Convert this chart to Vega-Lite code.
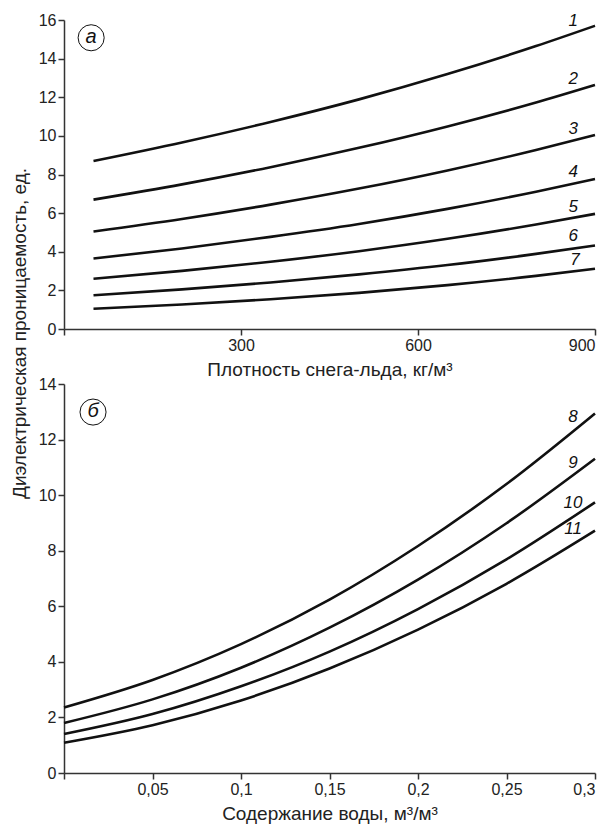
{
  "$schema": "https://vega.github.io/schema/vega-lite/v6.json",
  "background": "white",
  "padding": {"left": 11, "top": 11, "right": 0, "bottom": 2},
  "title": {"text": "Диэлектрическая проницаемость, ед.", "orient": "left", "anchor": "middle", "font": "Liberation Sans", "fontSize": 19, "fontWeight": "normal", "color": "#222", "offset": 8, "dx": 84},
  "config": {
    "font": "Liberation Sans",
    "view": {"stroke": null},
    "axis": {"grid": false, "domainColor": "#333", "tickColor": "#333", "domainWidth": 1.5, "tickWidth": 1.5, "tickSize": 6, "labelFontSize": 16, "labelColor": "#222", "titleFontSize": 19, "titleFontWeight": "normal", "titleColor": "#222", "labelPadding": 2, "titlePadding": 7, "labelFont": "Liberation Sans", "titleFont": "Liberation Sans"}
  },
  "datasets": {
    "top": [
      {"x": 50, "y": 8.7, "curve": "1"}, {"x": 200, "y": 9.66, "curve": "1"}, {"x": 350, "y": 10.72, "curve": "1"}, {"x": 500, "y": 11.89, "curve": "1"}, {"x": 650, "y": 13.2, "curve": "1"}, {"x": 800, "y": 14.65, "curve": "1"}, {"x": 900, "y": 15.7, "curve": "1"},
      {"x": 50, "y": 6.7, "curve": "2"}, {"x": 200, "y": 7.49, "curve": "2"}, {"x": 350, "y": 8.38, "curve": "2"}, {"x": 500, "y": 9.38, "curve": "2"}, {"x": 650, "y": 10.49, "curve": "2"}, {"x": 800, "y": 11.73, "curve": "2"}, {"x": 900, "y": 12.64, "curve": "2"},
      {"x": 50, "y": 5.05, "curve": "3"}, {"x": 200, "y": 5.7, "curve": "3"}, {"x": 350, "y": 6.44, "curve": "3"}, {"x": 500, "y": 7.27, "curve": "3"}, {"x": 650, "y": 8.21, "curve": "3"}, {"x": 800, "y": 9.27, "curve": "3"}, {"x": 900, "y": 10.05, "curve": "3"},
      {"x": 50, "y": 3.65, "curve": "4"}, {"x": 200, "y": 4.17, "curve": "4"}, {"x": 350, "y": 4.77, "curve": "4"}, {"x": 500, "y": 5.44, "curve": "4"}, {"x": 650, "y": 6.22, "curve": "4"}, {"x": 800, "y": 7.11, "curve": "4"}, {"x": 900, "y": 7.77, "curve": "4"},
      {"x": 50, "y": 2.6, "curve": "5"}, {"x": 200, "y": 3.01, "curve": "5"}, {"x": 350, "y": 3.48, "curve": "5"}, {"x": 500, "y": 4.03, "curve": "5"}, {"x": 650, "y": 4.67, "curve": "5"}, {"x": 800, "y": 5.41, "curve": "5"}, {"x": 900, "y": 5.96, "curve": "5"},
      {"x": 50, "y": 1.75, "curve": "6"}, {"x": 200, "y": 2.05, "curve": "6"}, {"x": 350, "y": 2.41, "curve": "6"}, {"x": 500, "y": 2.83, "curve": "6"}, {"x": 650, "y": 3.31, "curve": "6"}, {"x": 800, "y": 3.89, "curve": "6"}, {"x": 900, "y": 4.32, "curve": "6"},
      {"x": 50, "y": 1.05, "curve": "7"}, {"x": 200, "y": 1.27, "curve": "7"}, {"x": 350, "y": 1.54, "curve": "7"}, {"x": 500, "y": 1.87, "curve": "7"}, {"x": 650, "y": 2.27, "curve": "7"}, {"x": 800, "y": 2.75, "curve": "7"}, {"x": 900, "y": 3.12, "curve": "7"}
    ],
    "topLabels": [
      {"x": 863, "y": 15.96, "label": "1"},
      {"x": 863, "y": 12.95, "label": "2"},
      {"x": 863, "y": 10.36, "label": "3"},
      {"x": 863, "y": 8.13, "label": "4"},
      {"x": 863, "y": 6.3, "label": "5"},
      {"x": 863, "y": 4.83, "label": "6"},
      {"x": 866, "y": 3.58, "label": "7"}
    ],
    "topTag": [{"x": 46, "y": 15.08, "label": "а"}],
    "bottom": [
      {"x": 0, "y": 2.36, "curve": "8"}, {"x": 0.05, "y": 3.35, "curve": "8"}, {"x": 0.1, "y": 4.64, "curve": "8"}, {"x": 0.15, "y": 6.24, "curve": "8"}, {"x": 0.2, "y": 8.17, "curve": "8"}, {"x": 0.25, "y": 10.4, "curve": "8"}, {"x": 0.3, "y": 12.94, "curve": "8"},
      {"x": 0, "y": 1.8, "curve": "9"}, {"x": 0.05, "y": 2.65, "curve": "9"}, {"x": 0.1, "y": 3.79, "curve": "9"}, {"x": 0.15, "y": 5.23, "curve": "9"}, {"x": 0.2, "y": 6.96, "curve": "9"}, {"x": 0.25, "y": 8.99, "curve": "9"}, {"x": 0.3, "y": 11.31, "curve": "9"},
      {"x": 0, "y": 1.4, "curve": "10"}, {"x": 0.05, "y": 2.12, "curve": "10"}, {"x": 0.1, "y": 3.12, "curve": "10"}, {"x": 0.15, "y": 4.37, "curve": "10"}, {"x": 0.2, "y": 5.9, "curve": "10"}, {"x": 0.25, "y": 7.69, "curve": "10"}, {"x": 0.3, "y": 9.74, "curve": "10"},
      {"x": 0, "y": 1.09, "curve": "11"}, {"x": 0.05, "y": 1.72, "curve": "11"}, {"x": 0.1, "y": 2.61, "curve": "11"}, {"x": 0.15, "y": 3.76, "curve": "11"}, {"x": 0.2, "y": 5.16, "curve": "11"}, {"x": 0.25, "y": 6.81, "curve": "11"}, {"x": 0.3, "y": 8.72, "curve": "11"}
    ],
    "bottomLabels": [
      {"x": 0.2876, "y": 12.8, "label": "8"},
      {"x": 0.2876, "y": 11.15, "label": "9"},
      {"x": 0.2876, "y": 9.71, "label": "10"},
      {"x": 0.2876, "y": 8.78, "label": "11"}
    ],
    "bottomTag": [{"x": 0.0164, "y": 12.99, "label": "б"}]
  },
  "spacing": 55,
  "bounds": "flush",
  "vconcat": [
    {
      "width": 531,
      "height": 309,
      "encoding": {
        "x": {"field": "x", "type": "quantitative", "scale": {"domain": [0, 900], "nice": false}, "axis": {"values": [0, 300, 600, 900], "labelExpr": "datum.value == 0 ? '' : datum.label", "title": "Плотность снега-льда, кг/м³"}},
        "y": {"field": "y", "type": "quantitative", "scale": {"domain": [0, 16], "nice": false}, "axis": {"values": [0, 2, 4, 6, 8, 10, 12, 14, 16], "title": null}}
      },
      "layer": [
        {"data": {"name": "top"}, "mark": {"type": "line", "color": "#111", "strokeWidth": 2.6, "interpolate": "monotone"}, "encoding": {"detail": {"field": "curve"}}},
        {"data": {"name": "topLabels"}, "mark": {"type": "text", "fontStyle": "italic", "fontSize": 17, "color": "#111"}, "encoding": {"text": {"field": "label"}}},
        {"data": {"name": "topTag"}, "mark": {"type": "point", "shape": "circle", "size": 680, "stroke": "#111", "strokeWidth": 1, "filled": false, "opacity": 1}},
        {"data": {"name": "topTag"}, "mark": {"type": "text", "fontStyle": "italic", "fontSize": 20, "color": "#111", "dy": -1}, "encoding": {"text": {"field": "label"}}}
      ]
    },
    {
      "width": 531,
      "height": 389,
      "encoding": {
        "x": {"field": "x", "type": "quantitative", "scale": {"domain": [0, 0.3], "nice": false}, "axis": {"values": [0, 0.05, 0.1, 0.15, 0.2, 0.25, 0.3], "labelExpr": "datum.value == 0 ? '' : replace(format(datum.value, '~g'), '.', ',')", "title": "Содержание воды, м³/м³"}},
        "y": {"field": "y", "type": "quantitative", "scale": {"domain": [0, 14], "nice": false}, "axis": {"values": [0, 2, 4, 6, 8, 10, 12, 14], "title": null}}
      },
      "layer": [
        {"data": {"name": "bottom"}, "mark": {"type": "line", "color": "#111", "strokeWidth": 2.6, "interpolate": "monotone"}, "encoding": {"detail": {"field": "curve"}}},
        {"data": {"name": "bottomLabels"}, "mark": {"type": "text", "fontStyle": "italic", "fontSize": 17, "color": "#111"}, "encoding": {"text": {"field": "label"}}},
        {"data": {"name": "bottomTag"}, "mark": {"type": "point", "shape": "circle", "size": 680, "stroke": "#111", "strokeWidth": 1, "filled": false, "opacity": 1}},
        {"data": {"name": "bottomTag"}, "mark": {"type": "text", "fontStyle": "italic", "fontSize": 20, "color": "#111", "dy": -1}, "encoding": {"text": {"field": "label"}}}
      ]
    }
  ]
}
